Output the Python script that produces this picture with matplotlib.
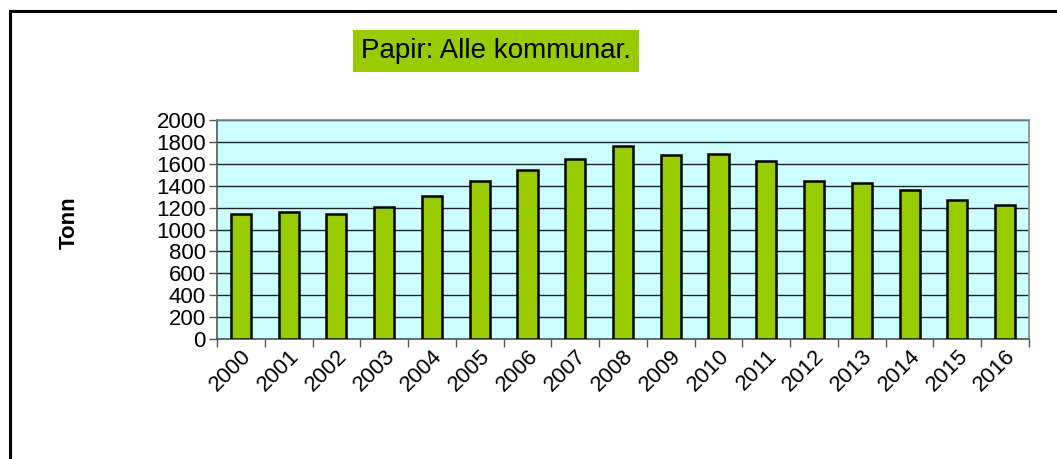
import matplotlib.pyplot as plt
from matplotlib.patches import Rectangle

plt.rcParams['font.family'] = ['Liberation Sans', 'DejaVu Sans']

years = ['2000', '2001', '2002', '2003', '2004', '2005', '2006', '2007', '2008',
         '2009', '2010', '2011', '2012', '2013', '2014', '2015', '2016']
tonn = [1141, 1157, 1138, 1202, 1303, 1446, 1543, 1647, 1766,
        1677, 1693, 1629, 1443, 1422, 1358, 1266, 1221]

W, H = 1057, 459
fig = plt.figure(figsize=(W / 100, H / 100), dpi=100)

# plot area in pixels: left 217, right 1029, top 120, bottom 339
ax = fig.add_axes([217 / W, 1 - 339 / H, (1029 - 217) / W, (339 - 120) / H])
ax.set_facecolor('#CCFFFF')

x = list(range(len(years)))
ax.bar(x, tonn, width=0.42, color='#99CC00', edgecolor='black', linewidth=1.8, zorder=3)

ax.set_xlim(-0.5, len(years) - 0.5)
ax.set_ylim(0, 2000)
ax.set_yticks(range(0, 2001, 200))
ax.yaxis.grid(True, color='#222222', linewidth=1, zorder=1)
ax.set_axisbelow(True)

ax.set_xticks(x)
ax.set_xticklabels(years, rotation=45, ha='right', va='top', rotation_mode='anchor', fontsize=16)
ax.tick_params(axis='x', length=0, pad=5)
ax.set_xticks([i - 0.5 for i in range(len(years) + 1)], minor=True)
ax.tick_params(axis='x', which='minor', length=6, width=1, color='#555555')
ax.tick_params(axis='y', length=6, width=1, color='#555555', labelsize=16, pad=2)

for s in ['left', 'bottom']:
    ax.spines[s].set_color('#555555')
    ax.spines[s].set_linewidth(1.2)
for s in ['top', 'right']:
    ax.spines[s].set_color('#888888')
    ax.spines[s].set_linewidth(1.2)

fig.text(69 / W, 1 - 223 / H, 'Tonn', rotation=90, ha='center', va='center',
         fontsize=16, fontweight='bold')

fig.text(496 / W, 1 - 51 / H, 'Papir: Alle kommunar.', ha='center', va='center', fontsize=20,
         bbox=dict(boxstyle='square,pad=0.3', facecolor='#99CC00', edgecolor='none'))

# outer frame (only top and left edges fall inside the image)
fig.patches.append(Rectangle((10 / W, -0.1), 1.2, 1 - 11 / H + 0.1, transform=fig.transFigure,
                             fill=False, edgecolor='black', linewidth=2.2))

fig.savefig('out.png', dpi=100)
